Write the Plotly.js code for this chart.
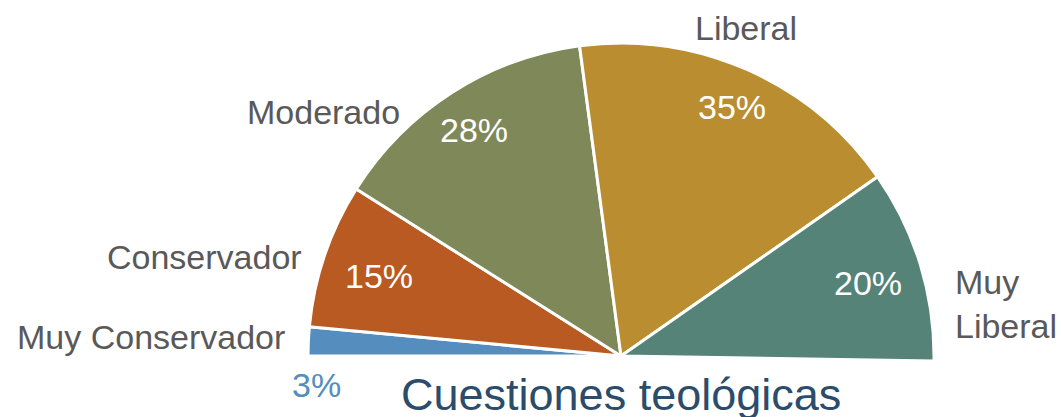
<!DOCTYPE html>
<html>
<head>
<meta charset="utf-8">
<script src="https://cdn.plot.ly/plotly-3.0.1.min.js"></script>
<style>
html, body { margin: 0; padding: 0; overflow: hidden; background: #fff; width: 1061px; height: 417px; }
#chart { width: 1061px; height: 720px; }
</style>
</head>
<body>
<div id="chart"></div>
<script>
// Data
var categories = ['Muy Conservador', 'Conservador', 'Moderado', 'Liberal', 'Muy Liberal'];
var values = [3, 15, 28, 35, 20];
var hiddenHalf = 100; // invisible lower half of the semicircle
var colors = ['#548DBE', '#B85A22', '#7F8858', '#BA8E30', '#568377'];
var chartTitle = 'Cuestiones teológicas';

var W = 1061, H = 720;
function px(x) { return x / W; }
function py(y) { return 1 - y / H; }

var cx = 621, cy = 356, R = 313;

var trace = {
  type: 'pie',
  labels: categories.concat(['']),
  values: values.concat([hiddenHalf]),
  sort: false,
  direction: 'clockwise',
  rotation: -90,
  textinfo: 'none',
  hoverinfo: 'skip',
  showlegend: false,
  marker: {
    colors: colors.concat(['rgba(0,0,0,0)']),
    line: { color: ['#ffffff','#ffffff','#ffffff','#ffffff','#ffffff','rgba(0,0,0,0)'], width: [3,3,3,3,3,0] }
  },
  domain: { x: [px(cx - R), px(cx + R)], y: [py(cy + R), py(cy - R)] }
};

var FONT = 'Liberation Sans, Arial, sans-serif';
var gray = '#595959';

// label positions (layout), text from data
var labelPos = [
  { x: 287, y: 337, xanchor: 'right' },
  { x: 304, y: 257, xanchor: 'right' },
  { x: 402, y: 112, xanchor: 'right' },
  { x: 745.5, y: 28, xanchor: 'center' },
  { x: 953, y: 304, xanchor: 'left' }
];
var pctPos = [
  { x: 316.5, y: 385, color: colors[0] },
  { x: 378.5, y: 276, color: '#ffffff' },
  { x: 473.5, y: 130, color: '#ffffff' },
  { x: 732, y: 107, color: '#ffffff' },
  { x: 867.5, y: 283, color: '#ffffff' }
];

var annotations = [];
categories.forEach(function (c, i) {
  var p = labelPos[i];
  var txt = c;
  if (c === 'Muy Liberal') txt = 'Muy<br>Liberal';
  annotations.push({
    xref: 'paper', yref: 'paper', x: px(p.x), y: py(p.y),
    xanchor: p.xanchor, yanchor: 'middle', align: p.xanchor === 'left' ? 'left' : 'right',
    text: txt, showarrow: false,
    font: { family: FONT, size: 34, color: gray }
  });
  var q = pctPos[i];
  annotations.push({
    xref: 'paper', yref: 'paper', x: px(q.x), y: py(q.y),
    xanchor: 'center', yanchor: 'middle',
    text: values[i] + '%', showarrow: false,
    font: { family: FONT, size: 34, color: q.color }
  });
});
annotations.push({
  xref: 'paper', yref: 'paper', x: px(621), y: py(394),
  xanchor: 'center', yanchor: 'middle',
  text: chartTitle, showarrow: false,
  font: { family: FONT, size: 45, color: '#2B4C6A' }
});

var layout = {
  width: W, height: H,
  margin: { l: 0, r: 0, t: 0, b: 0 },
  paper_bgcolor: '#ffffff',
  plot_bgcolor: '#ffffff',
  annotations: annotations
};

Plotly.newPlot('chart', [trace], layout, { displayModeBar: false, staticPlot: true });
</script>
</body>
</html>
